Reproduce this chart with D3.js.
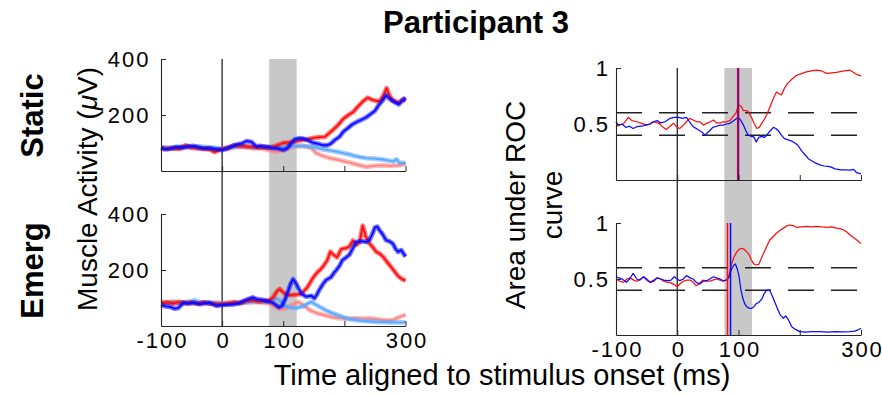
<!DOCTYPE html>
<html>
<head>
<meta charset="utf-8">
<script src="https://cdn.jsdelivr.net/npm/d3@7"></script>
<style>
  body { margin: 0; background: #fff; }
  svg { font-family: Helvetica, Arial, "Liberation Sans", sans-serif; }
</style>
</head>
<body>
<svg id="chart" width="882" height="395"></svg>
<script>
// ---- data: [time (ms), value] ----
const xTicks = [-100, 0, 100, 200, 300];
const xTickLabels = ["-100", "0", "100", "", "300"];
const emgTicks = [200, 400];
const rocTicks = [0.5, 1];
const rocTickLabels = ["0.5", "1"];
const window_ = [77, 122];      // grey shaded window
const chanceBand = [0.4, 0.6];  // dashed lines
const staticOnset = { red: 99.4, blue: 99.6 };
const emergOnset = { red: 82, blue: 87 };

const staticRed = [[-100,80],[-90,78],[-80,82],[-70,80],[-60,92],[-50,85],[-40,82],[-30,80],[-20,78],[-12,68],[-5,76],[0,78],[10,84],[20,92],[30,90],[40,88],[50,86],[60,84],[70,85],[80,84],[90,92],[100,100],[110,102],[120,106],[130,110],[140,114],[150,118],[160,121],[168,122],[175,135],[182,148],[190,165],[198,186],[208,202],[215,212],[222,230],[230,248],[238,262],[245,255],[252,250],[258,250],[264,270],[269,296],[273,272],[278,255],[284,248],[290,245],[295,255],[300,250]];
const staticBlue = [[-100,83],[-93,78],[-85,80],[-75,85],[-63,84],[-55,88],[-47,90],[-40,85],[-31,81],[-20,82],[-9,77],[0,75],[8,80],[17,89],[25,95],[33,99],[40,107],[48,104],[56,87],[62,90],[69,86],[76,84],[83,82],[92,80],[100,75],[106,80],[112,96],[119,113],[126,117],[132,116],[140,110],[148,101],[156,98],[165,92],[172,92],[178,98],[185,112],[192,122],[198,140],[205,152],[212,165],[220,175],[228,183],[236,192],[244,205],[250,215],[256,235],[262,250],[268,270],[272,262],[277,253],[283,245],[289,238],[294,250],[300,262]];
const staticLightRed = [[-100,82],[-90,84],[-80,80],[-70,78],[-60,84],[-50,82],[-40,80],[-30,78],[-20,76],[-12,70],[-5,75],[0,78],[10,80],[20,84],[30,86],[40,84],[50,82],[60,80],[70,78],[80,72],[90,68],[100,74],[110,82],[120,88],[130,90],[140,86],[147,80],[154,64],[161,57],[170,50],[180,44],[190,40],[203,33],[212,28],[222,22],[236,15],[248,18],[263,20],[275,18],[290,20],[300,27]];
const staticLightBlue = [[-100,84],[-90,82],[-80,84],[-70,86],[-60,88],[-50,84],[-40,88],[-30,86],[-20,84],[-10,82],[0,80],[10,84],[20,86],[30,88],[40,86],[50,84],[60,86],[70,88],[80,86],[90,84],[100,85],[110,88],[120,90],[130,90],[140,88],[150,86],[160,80],[168,76],[180,72],[190,68],[198,64],[206,60],[215,55],[225,50],[236,46],[250,44],[263,41],[272,38],[280,34],[285,42],[290,30],[300,28]];

const emergRed = [[-100,82],[-90,84],[-80,80],[-70,86],[-60,82],[-50,84],[-40,80],[-30,84],[-20,80],[-10,78],[0,78],[10,80],[20,84],[30,82],[40,90],[50,92],[60,88],[70,90],[78,92],[84,104],[90,125],[94,132],[99,122],[105,112],[112,110],[120,112],[128,114],[134,125],[140,140],[148,170],[155,190],[160,200],[166,215],[172,235],[177,265],[182,255],[188,245],[195,275],[202,278],[208,283],[214,305],[220,290],[225,300],[230,358],[235,320],[241,295],[247,280],[252,265],[258,258],[263,248],[270,228],[276,212],[282,195],[288,178],[294,168],[300,162]];
const emergBlue = [[-100,75],[-92,70],[-85,68],[-78,62],[-72,64],[-63,83],[-55,80],[-47,83],[-40,80],[-36,78],[-28,82],[-20,83],[-9,72],[0,75],[10,76],[18,77],[28,82],[39,93],[45,98],[50,102],[57,96],[67,93],[75,88],[83,83],[88,75],[93,67],[98,72],[103,95],[108,125],[112,150],[116,167],[121,152],[126,130],[130,115],[137,105],[146,108],[151,99],[155,112],[159,129],[165,150],[170,164],[178,174],[183,190],[187,200],[192,215],[197,236],[203,245],[208,254],[214,278],[219,300],[225,302],[230,302],[236,300],[241,307],[246,330],[250,352],[254,355],[257,343],[262,330],[268,307],[274,302],[279,295],[284,275],[288,265],[293,271],[297,258],[300,248]];
const emergLightRed = [[-100,86],[-90,84],[-80,88],[-70,82],[-60,84],[-50,86],[-40,80],[-30,84],[-20,82],[-10,84],[0,82],[10,84],[20,86],[30,82],[40,84],[50,86],[60,84],[70,82],[80,78],[88,66],[95,60],[104,62],[110,70],[116,76],[124,86],[132,76],[138,66],[143,57],[150,50],[158,44],[165,40],[172,36],[180,32],[190,28],[200,26],[210,27],[220,28],[230,26],[240,27],[250,25],[262,22],[272,20],[280,22],[286,28],[292,34],[300,40]];
const emergLightBlue = [[-100,80],[-90,82],[-80,84],[-70,82],[-60,84],[-50,88],[-45,92],[-38,86],[-30,84],[-20,82],[-10,80],[0,80],[10,78],[20,80],[30,82],[40,84],[50,86],[60,88],[70,86],[78,90],[85,96],[90,98],[96,88],[104,70],[112,66],[121,64],[128,68],[134,72],[140,80],[146,86],[152,78],[160,68],[170,56],[180,46],[190,38],[200,30],[210,24],[220,21],[230,18],[240,17],[252,15],[265,14],[275,13],[290,13],[300,13]];

const staticRocRed = [[-100,0.476],[-95,0.49],[-88,0.50],[-80,0.56],[-74,0.53],[-66,0.52],[-58,0.506],[-50,0.49],[-44,0.5],[-39,0.52],[-30,0.506],[-23,0.47],[-18,0.45],[-12,0.48],[-6,0.506],[0,0.47],[4,0.46],[10,0.49],[15,0.52],[20,0.55],[26,0.536],[32,0.52],[37,0.52],[43,0.49],[48,0.506],[54,0.52],[59,0.536],[64,0.51],[70,0.51],[75,0.52],[80,0.52],[86,0.53],[91,0.565],[96,0.6],[100,0.67],[104,0.66],[108,0.62],[113,0.62],[116,0.61],[121,0.56],[126,0.5],[130,0.46],[134,0.47],[138,0.506],[142,0.54],[146,0.58],[152,0.66],[157,0.73],[162,0.785],[166,0.77],[170,0.76],[175,0.82],[180,0.86],[187,0.9],[195,0.935],[203,0.95],[211,0.965],[219,0.975],[227,0.982],[235,0.975],[244,0.952],[252,0.957],[260,0.96],[268,0.97],[276,0.976],[282,0.98],[288,0.96],[294,0.94],[300,0.93]];
const staticRocBlue = [[-100,0.52],[-96,0.49],[-90,0.50],[-84,0.47],[-78,0.48],[-72,0.46],[-66,0.476],[-58,0.48],[-52,0.49],[-45,0.50],[-39,0.52],[-33,0.53],[-27,0.51],[-20,0.52],[-12,0.55],[-5,0.56],[2,0.56],[9,0.55],[15,0.56],[20,0.52],[26,0.476],[31,0.46],[37,0.44],[42,0.42],[45,0.40],[49,0.42],[53,0.44],[58,0.47],[64,0.48],[70,0.49],[75,0.49],[80,0.50],[86,0.506],[92,0.53],[97,0.55],[100,0.56],[104,0.53],[108,0.49],[112,0.44],[116,0.40],[121,0.39],[125,0.385],[129,0.34],[133,0.38],[138,0.39],[142,0.38],[146,0.40],[152,0.44],[157,0.47],[161,0.46],[165,0.44],[170,0.40],[175,0.37],[180,0.36],[186,0.35],[192,0.33],[197,0.31],[203,0.26],[208,0.23],[214,0.19],[220,0.17],[226,0.15],[233,0.135],[240,0.125],[249,0.12],[258,0.10],[266,0.09],[274,0.09],[282,0.088],[288,0.095],[293,0.065],[300,0.054]];
const emergRocRed = [[-100,0.50],[-94,0.48],[-88,0.47],[-82,0.50],[-77,0.51],[-71,0.49],[-66,0.48],[-60,0.50],[-55,0.52],[-50,0.49],[-44,0.47],[-38,0.48],[-33,0.51],[-27,0.50],[-22,0.48],[-16,0.47],[-12,0.47],[-5,0.45],[0,0.43],[5,0.46],[10,0.48],[16,0.49],[21,0.49],[26,0.47],[31,0.44],[36,0.46],[42,0.49],[47,0.48],[53,0.48],[58,0.49],[64,0.50],[70,0.49],[75,0.48],[80,0.49],[84,0.52],[88,0.62],[92,0.69],[97,0.74],[101,0.765],[105,0.775],[109,0.765],[113,0.745],[117,0.72],[121,0.67],[125,0.635],[129,0.625],[133,0.63],[137,0.68],[141,0.73],[146,0.79],[151,0.848],[156,0.875],[162,0.908],[168,0.935],[173,0.952],[179,0.975],[184,0.982],[190,0.975],[195,0.96],[203,0.965],[211,0.97],[219,0.965],[227,0.97],[236,0.965],[244,0.962],[252,0.965],[260,0.955],[266,0.95],[271,0.94],[277,0.92],[282,0.893],[288,0.87],[293,0.848],[297,0.83],[300,0.818]];
const emergRocBlue = [[-100,0.52],[-95,0.51],[-90,0.50],[-83,0.47],[-78,0.50],[-72,0.55],[-66,0.50],[-61,0.49],[-55,0.52],[-50,0.50],[-44,0.47],[-38,0.49],[-33,0.51],[-27,0.50],[-22,0.49],[-16,0.485],[-10,0.49],[-5,0.52],[0,0.50],[4,0.485],[10,0.50],[15,0.53],[21,0.51],[26,0.50],[31,0.47],[37,0.455],[42,0.48],[48,0.485],[53,0.50],[59,0.52],[64,0.51],[70,0.50],[75,0.485],[80,0.49],[84,0.51],[88,0.58],[92,0.62],[95,0.634],[98,0.59],[101,0.52],[104,0.40],[107,0.33],[110,0.28],[113,0.255],[117,0.24],[121,0.238],[125,0.25],[129,0.28],[133,0.29],[138,0.32],[142,0.37],[146,0.40],[151,0.40],[155,0.35],[160,0.283],[164,0.23],[168,0.18],[173,0.15],[177,0.17],[181,0.14],[187,0.074],[193,0.05],[200,0.03],[210,0.025],[220,0.03],[233,0.03],[245,0.025],[258,0.03],[270,0.028],[282,0.03],[290,0.035],[295,0.045],[300,0.06]];

// ---- colours ----
const RED = "#ff0d0d", BLUE = "#0a0aff", LRED = "#ff8585", LBLUE = "#5aa8ff";
const AXIS = "#262626", GREY = "#c8c8c8";

const svg = d3.select("#chart");

// scales
const xL = d3.scaleLinear().domain([-100, 300]).range([161, 405.5]);
const xR = d3.scaleLinear().domain([-100, 300]).range([616, 861]);
const yTL = d3.scaleLinear().domain([0, 400]).range([171, 59]);
const yBL = d3.scaleLinear().domain([0, 400]).range([326, 214]);
const yTR = d3.scaleLinear().domain([0, 1]).range([180, 68]);
const yBR = d3.scaleLinear().domain([0, 1]).range([335, 223]);

// grey window spanning both rows
function backdrop(x, yTop, yBot) {
  svg.append("rect")
    .attr("x", x(window_[0])).attr("width", x(window_[1]) - x(window_[0]))
    .attr("y", yTop.range()[1]).attr("height", yBot.range()[0] - yTop.range()[1])
    .attr("fill", GREY);
}
backdrop(xL, yTL, yBL);
backdrop(xR, yTR, yBR);

function axes(x, y, yTicks, yFmt, showX) {
  const g = svg.append("g");
  const ax = g.append("g").attr("transform", `translate(0,${y.range()[0]})`)
    .call(d3.axisBottom(x).tickValues(xTicks).tickSize(-5).tickSizeOuter(0).tickPadding(6)
      .tickFormat((d, i) => showX ? xTickLabels[i] : ""));
  const ay = g.append("g").attr("transform", `translate(${x.range()[0]},0)`)
    .call(d3.axisLeft(y).tickValues(yTicks).tickSize(-5).tickSizeOuter(0).tickPadding(x === xL ? 10.5 : 6)
      .tickFormat(yFmt));
  [ax, ay].forEach(a => {
    a.attr("font-family", null).attr("font-size", null);
    a.selectAll(".domain").attr("stroke", AXIS).attr("stroke-width", 1.1);
    a.selectAll(".tick line").attr("stroke", AXIS).attr("stroke-width", 1);
    a.selectAll("text").attr("fill", "#000").style("font-size", "22px").style("letter-spacing", "2px");
  });
  ax.selectAll("text").attr("dx", "1px");
}

function stimLine(x, yTop, yBot) {
  svg.append("line")
    .attr("x1", x(0)).attr("x2", x(0))
    .attr("y1", yTop.range()[1]).attr("y2", yBot.range()[0])
    .attr("stroke", "#111").attr("stroke-width", 1.2);
}

const lineL = y => d3.line().x(d => xL(d[0])).y(d => y(d[1]));
const lineR = y => d3.line().x(d => xR(d[0])).y(d => y(d[1]));

function emgTrace(data, y, color) {
  svg.append("path").datum(data).attr("d", lineL(y))
    .attr("fill", "none").attr("stroke", color).attr("stroke-width", 4.8)
    .attr("stroke-opacity", 0.55).attr("stroke-linejoin", "round");
  svg.append("path").datum(data).attr("d", lineL(y))
    .attr("fill", "none").attr("stroke", color).attr("stroke-width", 1.8)
    .attr("stroke-linejoin", "round");
}

function rocTrace(data, y, color) {
  svg.append("path").datum(data).attr("d", lineR(y))
    .attr("fill", "none").attr("stroke", color).attr("stroke-width", 1.25)
    .attr("stroke-linejoin", "round");
}

function dashed(y) {
  chanceBand.forEach(v => {
    svg.append("line")
      .attr("x1", xR(-100)).attr("x2", xR(300))
      .attr("y1", y(v)).attr("y2", y(v))
      .attr("stroke", "#222").attr("stroke-width", 1.4)
      .attr("stroke-dasharray", "26,17");
  });
}

function onset(o, y, blended) {
  svg.append("line")
    .attr("x1", xR(o.red)).attr("x2", xR(o.red))
    .attr("y1", y.range()[1]).attr("y2", y.range()[0])
    .attr("stroke", RED).attr("stroke-width", blended ? 2.4 : 1.5);
  svg.append("line")
    .attr("x1", xR(o.blue)).attr("x2", xR(o.blue))
    .attr("y1", y.range()[1]).attr("y2", y.range()[0])
    .attr("stroke", BLUE).attr("stroke-width", 1.5)
    .attr("stroke-opacity", blended ? 0.65 : 1);
}

// left: muscle activity
stimLine(xL, yTL, yBL);
emgTrace(staticLightRed, yTL, LRED);
emgTrace(staticLightBlue, yTL, LBLUE);
emgTrace(staticRed, yTL, RED);
emgTrace(staticBlue, yTL, BLUE);
axes(xL, yTL, emgTicks, d3.format("d"), false);

emgTrace(emergLightRed, yBL, LRED);
emgTrace(emergLightBlue, yBL, LBLUE);
emgTrace(emergRed, yBL, RED);
emgTrace(emergBlue, yBL, BLUE);
axes(xL, yBL, emgTicks, d3.format("d"), true);

// right: ROC
stimLine(xR, yTR, yBR);
dashed(yTR);
rocTrace(staticRocRed, yTR, RED);
rocTrace(staticRocBlue, yTR, BLUE);
onset(staticOnset, yTR, true);
axes(xR, yTR, rocTicks, (d, i) => rocTickLabels[i], false);

dashed(yBR);
rocTrace(emergRocRed, yBR, RED);
rocTrace(emergRocBlue, yBR, BLUE);
onset(emergOnset, yBR, false);
axes(xR, yBR, rocTicks, (d, i) => rocTickLabels[i], true);

// texts
svg.append("text").attr("x", 476).attr("y", 33).attr("text-anchor", "middle")
  .style("font-size", "31px").style("font-weight", "bold").text("Participant 3");

[["Static", 115.5], ["Emerg", 270.5]].forEach(([t, cy]) => {
  svg.append("text").attr("transform", `translate(43,${cy}) rotate(-90)`)
    .attr("text-anchor", "middle").style("font-size", "31px").style("font-weight", "bold").text(t);
});

const ml = svg.append("text").attr("transform", "translate(97,189) rotate(-90)")
  .attr("text-anchor", "middle").style("font-size", "28px");
ml.append("tspan").text("Muscle Activity (");
ml.append("tspan").style("font-style", "italic").text("\u03bc");
ml.append("tspan").text("V)");

svg.append("text").attr("transform", "translate(525,205) rotate(-90)")
  .attr("text-anchor", "middle").style("font-size", "28px").text("Area under ROC");
svg.append("text").attr("transform", "translate(562,205) rotate(-90)")
  .attr("text-anchor", "middle").style("font-size", "28px").text("curve");

svg.append("text").attr("x", 502).attr("y", 385).attr("text-anchor", "middle")
  .style("font-size", "29px").text("Time aligned to stimulus onset (ms)");
</script>
</body>
</html>
